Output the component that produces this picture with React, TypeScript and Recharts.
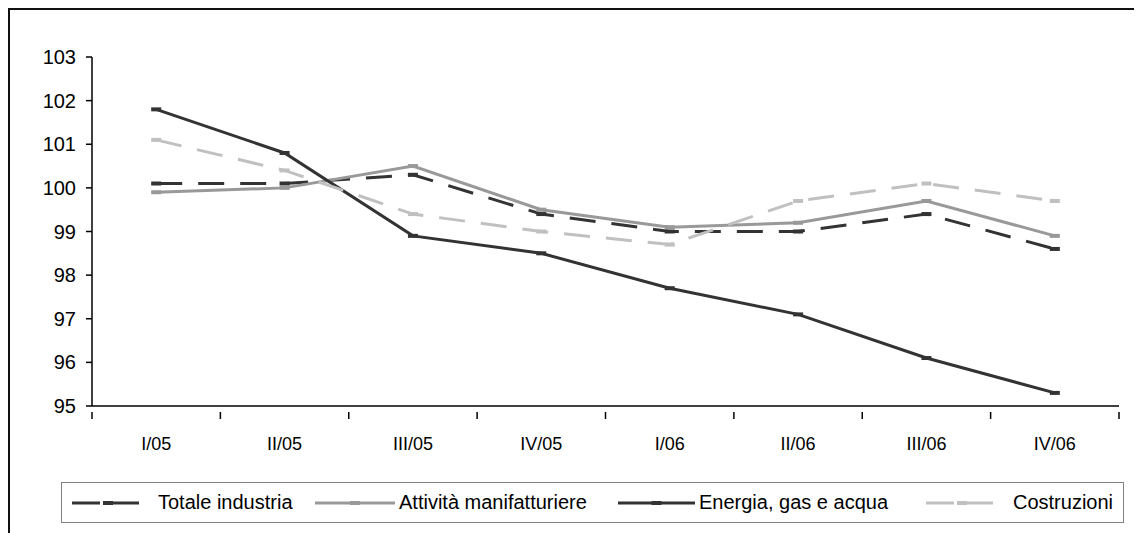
import React from "react";
import { LineChart, Line, XAxis, YAxis } from "recharts";

const quarters = ["I/05", "II/05", "III/05", "IV/05", "I/06", "II/06", "III/06", "IV/06"];
const totaleIndustria = [100.1, 100.1, 100.3, 99.4, 99.0, 99.0, 99.4, 98.6];
const manifatturiere = [99.9, 100.0, 100.5, 99.5, 99.1, 99.2, 99.7, 98.9];
const energia = [101.8, 100.8, 98.9, 98.5, 97.7, 97.1, 96.1, 95.3];
const costruzioni = [101.1, 100.4, 99.4, 99.0, 98.7, 99.7, 100.1, 99.7];
const yTicks = [95, 96, 97, 98, 99, 100, 101, 102, 103];

const FONT = "'Liberation Sans', Arial, sans-serif";

const series = [
  { key: "tot", name: "Totale industria", color: "#333333", dash: "26 16", legendDash: "28 11" },
  { key: "man", name: "Attività manifatturiere", color: "#999999", dash: undefined, legendDash: undefined },
  { key: "ene", name: "Energia, gas e acqua", color: "#333333", dash: undefined, legendDash: undefined },
  { key: "cos", name: "Costruzioni", color: "#c0c0c0", dash: "26 16", legendDash: "28 11" },
];

// legend item left edges (relative to legend box)
const legendLeft = [10, 253, 556, 864];
const legendSampleWidth = [72, 80, 77, 72];
const legendTextGap = [14, 4, 4, 15];

const data = quarters.map((q, i) => ({
  q,
  tot: totaleIndustria[i],
  man: manifatturiere[i],
  ene: energia[i],
  cos: costruzioni[i],
}));

// small horizontal dash marker like the original
const dashDot = (color: string) => (props: any) => {
  const { cx, cy, index } = props;
  if (cx == null || cy == null) return <g key={index} />;
  return <rect key={index} x={cx - 5} y={cy - 2} width={10} height={4} fill={color} stroke="none" />;
};

// x tick: label at band centre, tick marks at band edges
function XTick(props: any) {
  const { x, y, payload, index, visibleTicksCount } = props;
  const half = payload?.offset ?? 64;
  const axisY = y - 25;
  return (
    <g>
      <line x1={x - half} x2={x - half} y1={axisY} y2={axisY + 7} stroke="#000" strokeWidth={1.5} />
      {index === visibleTicksCount - 1 && (
        <line x1={x + half} x2={x + half} y1={axisY} y2={axisY + 7} stroke="#000" strokeWidth={1.5} />
      )}
      <text
        x={x}
        y={y}
        dy="0.71em"
        textAnchor="middle"
        fontSize={18}
        fontWeight="normal"
        fontFamily={FONT}
        fill="#000"
        stroke="none"
      >
        {payload.value}
      </text>
    </g>
  );
}

export default function App() {
  return (
    <div style={{ position: "relative", width: 1134, height: 525, fontFamily: FONT }}>
      {/* outer frame (top and left edges visible) */}
      <div style={{ position: "absolute", left: 0, top: 0, width: 1134, height: 2, background: "#111" }} />
      <div style={{ position: "absolute", left: 0, top: 0, width: 2, height: 525, background: "#111" }} />

      <div style={{ position: "absolute", left: 0, top: 0 }}>
        <LineChart width={1134} height={525} data={data} margin={{ top: 49, right: 23, left: 14, bottom: 67 }}>
          <XAxis
            dataKey="q"
            scale="band"
            height={60}
            stroke="#000"
            strokeWidth={1.5}
            tickLine={false}
            tickMargin={25}
            tick={<XTick />}
            interval={0}
          />
          <YAxis
            width={70}
            domain={[95, 103]}
            ticks={yTicks}
            interval={0}
            stroke="#000"
            strokeWidth={1.5}
            tickSize={6}
            tickMargin={10}
            tick={{ fontSize: 20, fill: "#000", fontFamily: FONT, stroke: "none" }}
          />
          {series.map((s) => (
            <Line
              key={s.key}
              dataKey={s.key}
              name={s.name}
              type="linear"
              stroke={s.color}
              strokeWidth={3}
              strokeDasharray={s.dash}
              dot={dashDot(s.color)}
              activeDot={false}
              isAnimationActive={false}
            />
          ))}
        </LineChart>
      </div>

      {/* legend */}
      <div
        style={{
          position: "absolute",
          left: 53,
          top: 474,
          width: 1061,
          height: 39,
          border: "1px solid #808080",
          background: "#fff",
        }}
      >
        {series.map((s, i) => (
          <div
            key={s.key}
            style={{
              position: "absolute",
              left: legendLeft[i],
              top: 0,
              height: 39,
              display: "flex",
              alignItems: "center",
              whiteSpace: "nowrap",
            }}
          >
            <svg width={legendSampleWidth[i]} height={10} style={{ display: "block" }}>
              <line
                x1={0}
                x2={legendSampleWidth[i]}
                y1={5}
                y2={5}
                stroke={s.color}
                strokeWidth={3}
                strokeDasharray={s.legendDash}
              />
              <rect x={legendSampleWidth[i] / 2 - 5} y={3} width={10} height={4} fill={s.color} />
            </svg>
            <span style={{ marginLeft: legendTextGap[i], fontSize: 20, color: "#000" }}>{s.name}</span>
          </div>
        ))}
      </div>
    </div>
  );
}
